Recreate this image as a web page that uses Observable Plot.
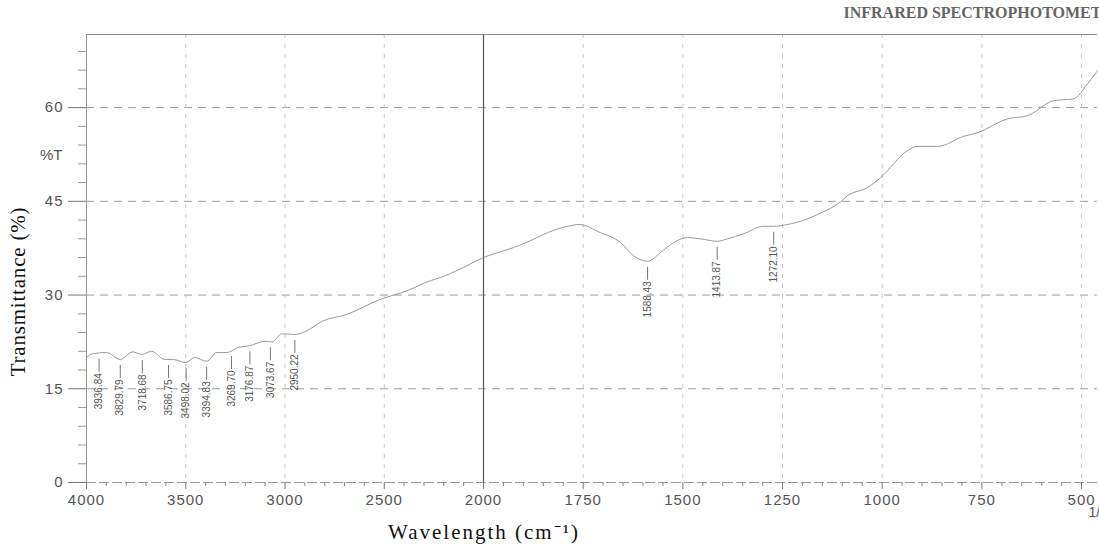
<!DOCTYPE html>
<html>
<head>
<meta charset="utf-8">
<script src="https://cdn.jsdelivr.net/npm/d3@7"></script>
<script src="https://cdn.jsdelivr.net/npm/@observablehq/plot@0.6"></script>
<style>
  html, body { margin: 0; padding: 0; background: #fff; }
  #chart svg { display: block; overflow: visible; }
</style>
</head>
<body>
<div id="chart"></div>
<script>
// ---- Data ----
const wavenumber = [4000, 3970, 3899, 3830, 3768, 3720, 3672, 3606, 3566, 3500, 3455, 3395, 3343, 3293, 3237, 3177, 3101, 3066, 3015, 2950, 2889, 2813, 2690, 2520, 2384, 2268, 2217, 2116, 2000, 1925, 1882, 1839, 1782, 1760, 1707, 1656, 1624, 1588, 1556, 1523, 1488, 1456, 1414, 1388, 1348, 1298, 1272, 1230, 1205, 1162, 1105, 1087, 1037, 1004, 937, 912, 861, 796, 760, 686, 636, 570, 520, 485, 460];
const transmittance = [20.0, 20.6, 20.8, 19.7, 20.9, 20.5, 21.0, 19.7, 19.7, 19.2, 20.0, 19.4, 20.8, 20.8, 21.6, 21.9, 22.6, 22.5, 23.8, 23.7, 24.3, 25.8, 26.9, 29.3, 30.7, 32.3, 32.8, 34.2, 36.0, 37.6, 38.7, 40.0, 41.1, 41.3, 40.0, 38.4, 36.3, 35.4, 36.8, 38.4, 39.2, 39.0, 38.6, 39.0, 39.8, 41.0, 41.0, 41.4, 41.8, 42.9, 44.9, 45.9, 47.2, 48.8, 53.1, 53.8, 53.8, 55.4, 56.0, 58.2, 58.7, 61.1, 61.4, 63.8, 65.9];

const peakWavenumbers = [3936.84, 3829.79, 3718.68, 3586.75, 3498.02, 3394.83, 3269.70, 3176.87, 3073.67, 2950.22, 1588.43, 1413.87, 1272.10];
const peakTexts = ["3936.84", "3829.79", "3718.68", "3586.75", "3498.02", "3394.83", "3269.70", "3176.87", "3073.67", "2950.22", "1588.43", "1413.87", "1272.10"];

const xMajorTicks = [4000, 3500, 3000, 2500, 2000, 1750, 1500, 1250, 1000, 750, 500];
const xGridTicks = [3500, 3000, 2500, 1750, 1500, 1250, 1000, 750, 500];
const yMajorTicks = [0, 15, 30, 45, 60];
const yGridTicks = [15, 30, 45, 60];
const yTop = 71.7;

// tick helpers (axis decoration only)
const xMinorTicks = d3.range(3900, 2000, -100).concat(d3.range(1950, 450, -50)).filter(d => !xMajorTicks.includes(d));
const yMinorTicks = d3.range(3, 72, 3).filter(d => !yMajorTicks.includes(d));

const spectrum = wavenumber.map((w, i) => ({w, t: transmittance[i]}));

// curve value at each labelled peak (looked up on the read curve)
function curveAt(w) {
  for (let i = 0; i < wavenumber.length - 1; i++) {
    const a = wavenumber[i], b = wavenumber[i + 1];
    if (w <= a && w >= b) {
      const f = (a - w) / (a - b);
      return transmittance[i] + f * (transmittance[i + 1] - transmittance[i]);
    }
  }
  return transmittance[transmittance.length - 1];
}
const peaks = peakWavenumbers.map((w, i) => ({w, t: curveAt(w), label: peakTexts[i]}));

const grey = "#555";
const sans = "'Liberation Sans', Arial, Helvetica, sans-serif";
const serif = "'Liberation Serif', 'Times New Roman', serif";

const chart = Plot.plot({
  width: 1099,
  height: 554,
  marginLeft: 86,
  marginRight: 2,
  marginTop: 34,
  marginBottom: 72,
  style: {background: "#fff", color: grey, fontFamily: sans, overflow: "visible"},
  x: {type: "linear", domain: [4000, 2000, 460], range: [86, 483, 1097], axis: null},
  y: {domain: [0, yTop], range: [482, 34], axis: null},
  marks: [
    Plot.gridY(yGridTicks, {stroke: "#9a9a9a", strokeOpacity: 1, strokeDasharray: "8,6"}),
    Plot.gridX(xGridTicks, {stroke: "#c8c8c8", strokeOpacity: 1, strokeDasharray: "4,6"}),
    Plot.ruleX([2000], {stroke: "#555", strokeWidth: 1.2}),
    Plot.ruleY([yTop], {stroke: "#888"}),
    Plot.ruleX([4000], {stroke: "#999"}),
    Plot.ruleY([0], {stroke: "#999", strokeDasharray: "10,3"}),
    Plot.axisX(xMajorTicks, {label: null, tickSize: 7, tickPadding: 5, fontSize: 15, stroke: "#777", fill: grey, tickFormat: d => String(d)}),
    Plot.axisX(xMinorTicks, {label: null, tickSize: 4, stroke: "#888", tickFormat: () => ""}),
    Plot.axisY(yMajorTicks, {label: null, tickSize: 18, tickPadding: 5, fontSize: 15, stroke: "#777", fill: grey, tickFormat: d => String(d)}),
    Plot.axisY(yMinorTicks, {label: null, tickSize: 8, stroke: "#999", tickFormat: () => ""}),
    Plot.line(spectrum, {x: "w", y: "t", stroke: "#999", strokeWidth: 1, curve: "monotone-x"}),
    Plot.ruleX(peaks, {x: "w", y1: "t", y2: "t", insetTop: 6, insetBottom: -19, stroke: "#666", strokeWidth: 0.9}),
    Plot.text(peaks, {x: "w", y: "t", text: "label", rotate: -90, textAnchor: "end", lineAnchor: "middle", dy: 20, fontSize: 10, fill: grey}),
    Plot.text(["%T"], {frameAnchor: "top-left", dx: -24, dy: 121, textAnchor: "end", lineAnchor: "middle", fontSize: 15, fill: grey}),
    Plot.text(["Transmittance (%)"], {frameAnchor: "left", rotate: -90, dx: -68, dy: 33, textAnchor: "middle", lineAnchor: "middle", fontFamily: serif, fontSize: 21, fill: "#111"}),
    Plot.text(["Wavelength (cm\u207B\u00B9)"], {frameAnchor: "bottom", dx: -108, dy: 50, textAnchor: "middle", lineAnchor: "middle", fontFamily: serif, fontSize: 21, fill: "#111"}),
    Plot.text(["INFRARED SPECTROPHOTOMETER"], {frameAnchor: "top-left", dx: 757, dy: -22, textAnchor: "start", lineAnchor: "middle", fontFamily: serif, fontWeight: "bold", fontSize: 16, fill: "#666"}),
    Plot.text(["1/cm"], {frameAnchor: "bottom-right", dx: -9, dy: 30, textAnchor: "start", lineAnchor: "middle", fontSize: 14, fill: grey})
  ]
});
document.getElementById("chart").append(chart);

// letter spacing to match the wider scanned lettering
const svg = d3.select(chart);
svg.selectAll("g[aria-label='x-axis tick label'] text, g[aria-label='y-axis tick label'] text").style("letter-spacing", "1px");
svg.selectAll("text").filter(function () { return this.textContent.startsWith("Wavelength"); }).style("letter-spacing", "2px");
svg.selectAll("text").filter(function () { return this.textContent.startsWith("Transmittance"); }).style("letter-spacing", "0.8px");
</script>
</body>
</html>
